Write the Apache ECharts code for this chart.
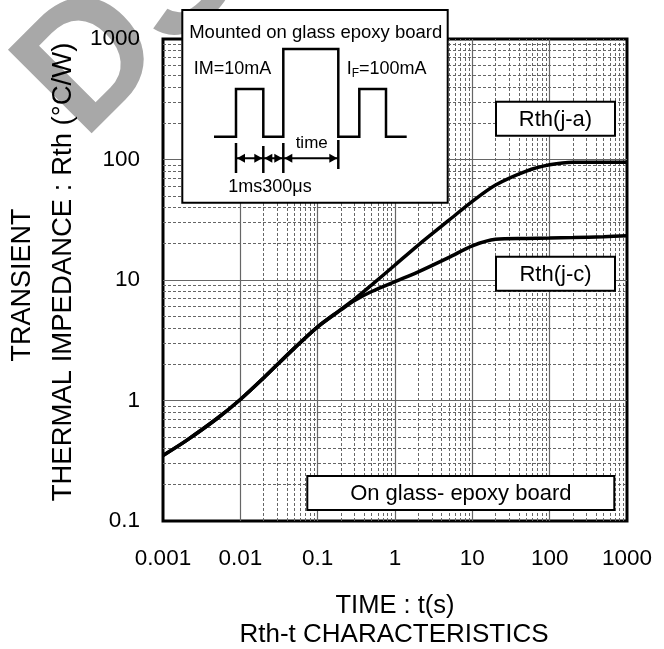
<!DOCTYPE html>
<html>
<head>
<meta charset="utf-8">
<script src="https://cdn.jsdelivr.net/npm/echarts@6/dist/echarts.min.js"></script>
<style>
  html, body { margin: 0; padding: 0; background: #fff; }
  #chart { width: 664px; height: 649px; }
</style>
</head>
<body>
<div id="chart"></div>
<script>
// ---- data ----
const timeS = [0.001, 0.002, 0.005, 0.01, 0.02, 0.05, 0.1, 0.2, 0.3, 0.5, 1, 2, 5, 10, 20, 50, 100, 200, 500, 1000];
const rthJA = [0.35, 0.465, 0.709, 1.02, 1.54, 2.72, 4.09, 5.71, 6.94, 9.10, 13.32, 19.5, 31.4, 45.0, 61.5, 80.2, 90.3, 95.1, 95.1, 95.0];
const rthJC = [0.35, 0.465, 0.709, 1.02, 1.54, 2.72, 4.09, 5.65, 6.75, 8.03, 9.69, 11.68, 15.4, 19.2, 21.75, 22.15, 22.3, 22.5, 22.85, 23.3];
const xTicks = ['0.001', '0.01', '0.1', '1', '10', '100', '1000'];
const yTicks = ['0.1', '1', '10', '100', '1000'];

const FONT = 'Liberation Sans, Arial, sans-serif';

function minorValues(ticks) {
  const out = [];
  for (let i = 0; i < ticks.length - 1; i++) {
    const base = Number(ticks[i]);
    for (let k = 2; k <= 9; k++) out.push(Number((k * base).toPrecision(6)));
  }
  return out;
}
function tickFormatter(list) {
  return function (v) {
    const s = list.find(t => Math.abs(Math.log10(Number(t)) - Math.log10(v)) < 1e-6);
    return s || '';
  };
}

const minorLineStyle = { color: '#666', width: 1, type: [3, 2] };
const minorMarks = [];
minorValues(xTicks).forEach(v => minorMarks.push({ xAxis: v }));
minorValues(yTicks).forEach(v => minorMarks.push({ yAxis: v }));

const chart = echarts.init(document.getElementById('chart'), null, { renderer: 'canvas' });

const pulsePts = [[214, 136.7], [236, 136.7], [236, 89], [263.3, 89], [263.3, 136.7], [283.3, 136.7],
  [283.3, 49], [338.3, 49], [338.3, 136.7], [359.3, 136.7], [359.3, 89], [386, 89], [386, 136.7], [406.7, 136.7]];
const arrowY = 158.3;
const segs = [[236, 263.3], [263.3, 283.3], [283.3, 338.3]];
const insetEls = [];
insetEls.push({ type: 'rect', shape: { x: 182.3, y: 10, width: 265.4, height: 192.7 },
  style: { fill: '#fff', stroke: '#000', lineWidth: 2 }, z: 100 });
insetEls.push({ type: 'text', x: 315.7, y: 33, z: 101,
  style: { text: 'Mounted on glass epoxy board', font: '18.5px ' + FONT, fill: '#000', align: 'center', verticalAlign: 'middle' } });
insetEls.push({ type: 'text', x: 232.5, y: 69, z: 101,
  style: { text: 'IM=10mA', font: '18px ' + FONT, fill: '#000', align: 'center', verticalAlign: 'middle' } });
insetEls.push({ type: 'text', x: 346.7, y: 69, z: 101,
  style: { text: '{a|I}{s|F}{a|=100mA}', align: 'left', verticalAlign: 'middle',
    rich: { a: { fontSize: 18, fontFamily: FONT, fill: '#000', lineHeight: 22, verticalAlign: 'middle' },
            s: { fontSize: 12, fontFamily: FONT, fill: '#000', lineHeight: 22, verticalAlign: 'bottom', padding: [8, 0, 0, 0] } } } });
insetEls.push({ type: 'text', x: 311.7, y: 143.3, z: 101,
  style: { text: 'time', font: '17px ' + FONT, fill: '#000', align: 'center', verticalAlign: 'middle' } });
insetEls.push({ type: 'text', x: 270, y: 187, z: 101,
  style: { text: '1ms300μs', font: '18px ' + FONT, fill: '#000', align: 'center', verticalAlign: 'middle' } });
insetEls.push({ type: 'polyline', shape: { points: pulsePts }, z: 101,
  style: { stroke: '#000', lineWidth: 2.5, fill: null } });
[[236, 143, 173], [263.3, 146, 173], [283.3, 143, 173], [338.3, 140, 169]].forEach(v => {
  insetEls.push({ type: 'line', shape: { x1: v[0], y1: v[1], x2: v[0], y2: v[2] }, z: 101,
    style: { stroke: '#000', lineWidth: 2.5 } });
});
insetEls.push({ type: 'line', shape: { x1: 236, y1: arrowY, x2: 338.3, y2: arrowY }, z: 101,
  style: { stroke: '#000', lineWidth: 2 } });
segs.forEach(s => {
  const a = s[0] + 1, b = s[1] - 1;
  insetEls.push({ type: 'polygon', z: 102, shape: { points: [[a, arrowY], [a + 8, arrowY - 4.5], [a + 8, arrowY + 4.5]] }, style: { fill: '#000' } });
  insetEls.push({ type: 'polygon', z: 102, shape: { points: [[b, arrowY], [b - 8, arrowY - 4.5], [b - 8, arrowY + 4.5]] }, style: { fill: '#000' } });
});

function labelBox(x, y, w, h, text, fs) {
  return [
    { type: 'rect', shape: { x: x, y: y, width: w, height: h }, z: 100,
      style: { fill: '#fff', stroke: '#000', lineWidth: 2 } },
    { type: 'text', x: x + w / 2, y: y + h / 2 + 1, z: 101,
      style: { text: text, font: fs + 'px ' + FONT, fill: '#000', align: 'center', verticalAlign: 'middle' } }
  ];
}

const graphics = [
  // watermark
  { type: 'text', x: 50, y: 108, rotation: Math.PI / 4, z: -10, silent: true,
    style: { text: 'DS', font: 'bold 172px ' + FONT, fill: '#a8a8a8', align: 'left', verticalAlign: 'middle' } },
  // y axis title (two lines)
  { type: 'text', x: 23, y: 285, rotation: Math.PI / 2, z: 50,
    style: { text: 'TRANSIENT', font: '27px ' + FONT, fill: '#000', align: 'center', verticalAlign: 'middle' } },
  { type: 'text', x: 63, y: 272, rotation: Math.PI / 2, z: 50,
    style: { text: 'THERMAL IMPEDANCE : Rth (°C/W)', font: '27.5px ' + FONT, fill: '#000', align: 'center', verticalAlign: 'middle' } },
  // x axis title
  { type: 'text', x: 395, y: 606, z: 50,
    style: { text: 'TIME : t(s)', font: '25.5px ' + FONT, fill: '#000', align: 'center', verticalAlign: 'middle' } },
  { type: 'text', x: 394, y: 635, z: 50,
    style: { text: 'Rth-t CHARACTERISTICS', font: '26px ' + FONT, fill: '#000', align: 'center', verticalAlign: 'middle' } }
].concat(insetEls)
 .concat(labelBox(496, 101.7, 119, 34, 'Rth(j-a)', 22))
 .concat(labelBox(496, 256.7, 119, 34, 'Rth(j-c)', 22))
 .concat(labelBox(307.3, 476, 307, 34, 'On glass- epoxy board', 22));

const option = {
  animation: false,
  backgroundColor: '#fff',
  grid: { left: 163, right: 37, top: 39, bottom: 128, show: true, borderColor: '#000', borderWidth: 3,
          containLabel: false, outerBoundsMode: 'none' },
  xAxis: {
    type: 'log', logBase: 10, min: 0.001, max: 1000, splitNumber: 6,
    axisLine: { show: false }, axisTick: { show: false },
    axisLabel: { formatter: tickFormatter(xTicks), fontSize: 22.5, fontFamily: FONT, color: '#000', margin: 26 },
    splitLine: { show: true, showMinLine: false, showMaxLine: false, lineStyle: { color: '#666', width: 1.2 } }
  },
  yAxis: {
    type: 'log', logBase: 10, min: 0.1, max: 1000, splitNumber: 4,
    axisLine: { show: false }, axisTick: { show: false },
    axisLabel: { formatter: tickFormatter(yTicks), fontSize: 22.5, fontFamily: FONT, color: '#000', margin: 23 },
    splitLine: { show: true, showMinLine: false, showMaxLine: false, lineStyle: { color: '#666', width: 1.2 } }
  },
  graphic: graphics,
  series: [
    { type: 'line', name: 'grid', data: [], silent: true,
      markLine: { silent: true, symbol: ['none', 'none'], label: { show: false }, animation: false,
                  lineStyle: minorLineStyle, emphasis: { disabled: true }, data: minorMarks } },
    { type: 'line', name: 'Rth(j-a)', z: 5, data: timeS.map((t, i) => [t, rthJA[i]]), showSymbol: false,
      smooth: 0.3, lineStyle: { color: '#000', width: 3.5 } },
    { type: 'line', name: 'Rth(j-c)', z: 5, data: timeS.map((t, i) => [t, rthJC[i]]), showSymbol: false,
      smooth: 0.3, lineStyle: { color: '#000', width: 3.5 } }
  ]
};
chart.setOption(option);
</script>
</body>
</html>
